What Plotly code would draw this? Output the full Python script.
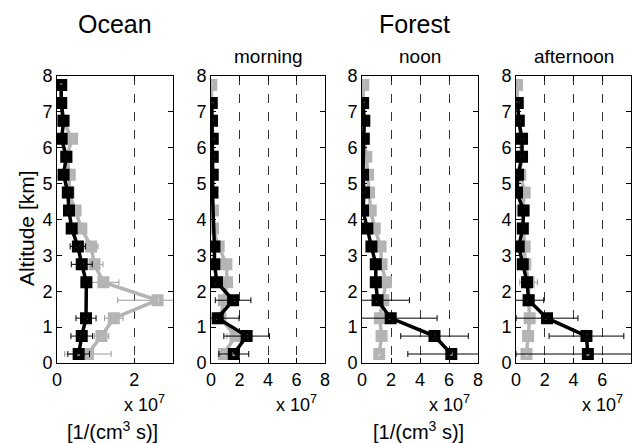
import plotly.graph_objects as go

W, H = 636, 443

altitude = [0.25, 0.75, 1.25, 1.75, 2.25, 2.75, 3.25, 3.75,
            4.25, 4.75, 5.25, 5.75, 6.25, 6.75, 7.25, 7.75]

panel_titles = ["", "morning", "noon", "afternoon"]
x_ranges = [3, 8, 8, 8]

# values in units of 1e7 [1/(cm^3 s)], bottom (0.25 km) to top (7.75 km)
ocean_black = [0.56, 0.64, 0.75, None, 0.76, 0.64, 0.54, 0.38, 0.31, 0.28, 0.17, 0.24, 0.12, 0.17, 0.11, 0.11]
ocean_black_err = [0.28, 0.28, 0.26, None, 0.13, 0.27, 0.2, 0.1, 0.09, 0.09, 0.08, 0.08, 0.06, 0.06, 0.05, 0.05]
ocean_gray = [0.8, 1.15, 1.47, 2.60, 1.20, 0.97, 0.88, 0.63, 0.48, 0.30, 0.33, 0.25, 0.39, 0.15, 0.10, 0.10]
ocean_gray_err = [0.6, 0.19, 0.24, 1.03, 0.4, 0.22, 0.18, 0.08, 0.1, 0.06, 0.06, 0.06, 0.08, 0.04, 0.04, 0.03]

morning_black = [1.6, 2.5, 0.47, 1.55, 0.42, 0.24, 0.24, None, None, 0.10, 0.12, 0.12, 0.12, 0.07, 0.05, None]
morning_black_err = [1.05, 1.6, 1.5, 1.25, 0.15, 0.1, 0.1, None, None, 0.05, 0.05, 0.05, 0.05, 0.05, 0.04, None]
morning_gray = [0.9, 1.72, 0.66, 0.9, 1.13, 1.08, 0.54, 0.14, 0.14, 0.10, 0.10, 0.10, 0.10, 0.08, 0.05, 0.02]
morning_gray_err = [0.35, 0.6, 0.2, 0.3, 0.15, 0.15, 0.15, 0.05, 0.05, 0.04, 0.04, 0.04, 0.04, 0.04, 0.03, 0.03]

noon_black = [6.16, 5.0, 1.98, 1.07, 0.95, 0.95, 0.65, 0.37, 0.07, 0.14, 0.07, None, 0.12, 0.16, 0.07, None]
noon_black_err = [3.0, 2.33, 3.2, 2.2, 0.1, 0.1, 0.1, 0.08, 0.05, 0.05, 0.05, None, 0.05, 0.05, 0.04, None]
noon_gray = [1.19, 1.35, 1.23, 1.47, 1.65, 1.35, 1.28, 0.88, 0.60, 0.49, 0.42, 0.30, 0.12, 0.12, 0.10, 0.09]
noon_gray_err = [0.15, 0.2, 0.15, 0.15, 0.15, 0.12, 0.12, 0.1, 0.08, 0.08, 0.06, 0.06, 0.05, 0.05, 0.04, 0.04]

afternoon_black = [5.0, 4.9, 2.16, 0.88, 0.77, 0.47, 0.19, 0.47, 0.53, 0.07, 0.14, 0.42, 0.42, 0.19, 0.12, None]
afternoon_black_err = [5.0, 2.6, 2.15, 1.05, 0.1, 0.1, 0.1, 0.08, 0.08, 0.05, 0.05, 0.05, 0.05, 0.05, 0.04, None]
afternoon_gray = [0.73, 0.84, 0.95, 0.88, 0.88, 0.65, 0.60, 0.50, 0.45, 0.60, 0.30, 0.35, 0.35, 0.20, 0.10, 0.07]
afternoon_gray_err = [0.15, 0.15, 0.15, 0.2, 0.62, 0.15, 0.12, 0.1, 0.08, 0.08, 0.06, 0.06, 0.05, 0.05, 0.04, 0.04]

panels = [
    (ocean_black, ocean_black_err, ocean_gray, ocean_gray_err),
    (morning_black, morning_black_err, morning_gray, morning_gray_err),
    (noon_black, noon_black_err, noon_gray, noon_gray_err),
    (afternoon_black, afternoon_black_err, afternoon_gray, afternoon_gray_err),
]

# layout geometry (pixels)
px_left = [57, 211, 362, 516]
px_right = [173, 325, 478, 631]
py_top, py_bottom = 76, 363

FONT = "Liberation Sans, Arial, sans-serif"
GRAY = "#b4b4b4"
GRAY_ERR = "#9a9a9a"

fig = go.Figure()
layout_axes = {}


def nan_list(v):
    return [float("nan") if a is None else a for a in v]


for i, (bk, bke, gr, gre) in enumerate(panels):
    n = "" if i == 0 else str(i + 1)
    xa, ya = "x" + n, "y" + n
    for vals, errs, col, ecol in ((gr, gre, GRAY, GRAY_ERR), (bk, bke, "black", "black")):
        fig.add_trace(go.Scatter(
            x=vals, y=altitude, xaxis=xa, yaxis=ya, mode="lines+markers",
            connectgaps=True, showlegend=False, cliponaxis=True,
            line=dict(color=col, width=3.5),
            marker=dict(symbol="square-open", size=7.5, color=col, line=dict(width=4.5, color=col)),
            error_x=dict(type="data", array=nan_list(errs), visible=True,
                         thickness=1, width=3, color=ecol),
        ))
    common = dict(showline=True, linecolor="black", linewidth=1, mirror="ticks",
                  ticks="inside", ticklen=5, tickcolor="black", zeroline=False,
                  automargin=False,
                  tickfont=dict(family=FONT, size=18, color="black"))
    layout_axes["xaxis" + n] = dict(
        common, domain=[px_left[i] / W, px_right[i] / W], range=[0, x_ranges[i]],
        dtick=2, tick0=0, anchor=ya, showgrid=True, gridcolor="#333333",
        griddash="dash", gridwidth=1)
    layout_axes["yaxis" + n] = dict(
        common, domain=[1 - py_bottom / H, 1 - py_top / H], range=[0, 8], dtick=1,
        anchor=xa, showgrid=False)


def ann(text, px, py, size, xanchor="center", angle=0):
    return dict(text=text, x=px / W, y=1 - py / H, xref="paper", yref="paper",
                xanchor=xanchor, yanchor="middle", showarrow=False, textangle=angle,
                font=dict(family=FONT, size=size, color="black"))


annotations = [
    ann("Altitude [km]", 26, 228, 21, angle=-90),
    ann("Ocean", 115, 24, 25),
    ann("Forest", 414, 24, 25),
]
for i in range(1, 4):
    annotations.append(ann(panel_titles[i], (px_left[i] + px_right[i]) / 2, 56, 19))
for i in range(4):
    annotations.append(ann("x 10<sup>7</sup>", px_right[i] - 6, 403, 18, xanchor="right"))
for i in (0, 2):
    annotations.append(ann("[1/(cm<sup>3</sup> s)]", (px_left[i] + px_right[i]) / 2 - 2, 430, 20))

fig.update_layout(
    width=W, height=H, margin=dict(l=0, r=0, t=0, b=0),
    paper_bgcolor="white", plot_bgcolor="white",
    font=dict(family=FONT, color="black"),
    annotations=annotations, **layout_axes,
)

fig.write_html("out.html")
